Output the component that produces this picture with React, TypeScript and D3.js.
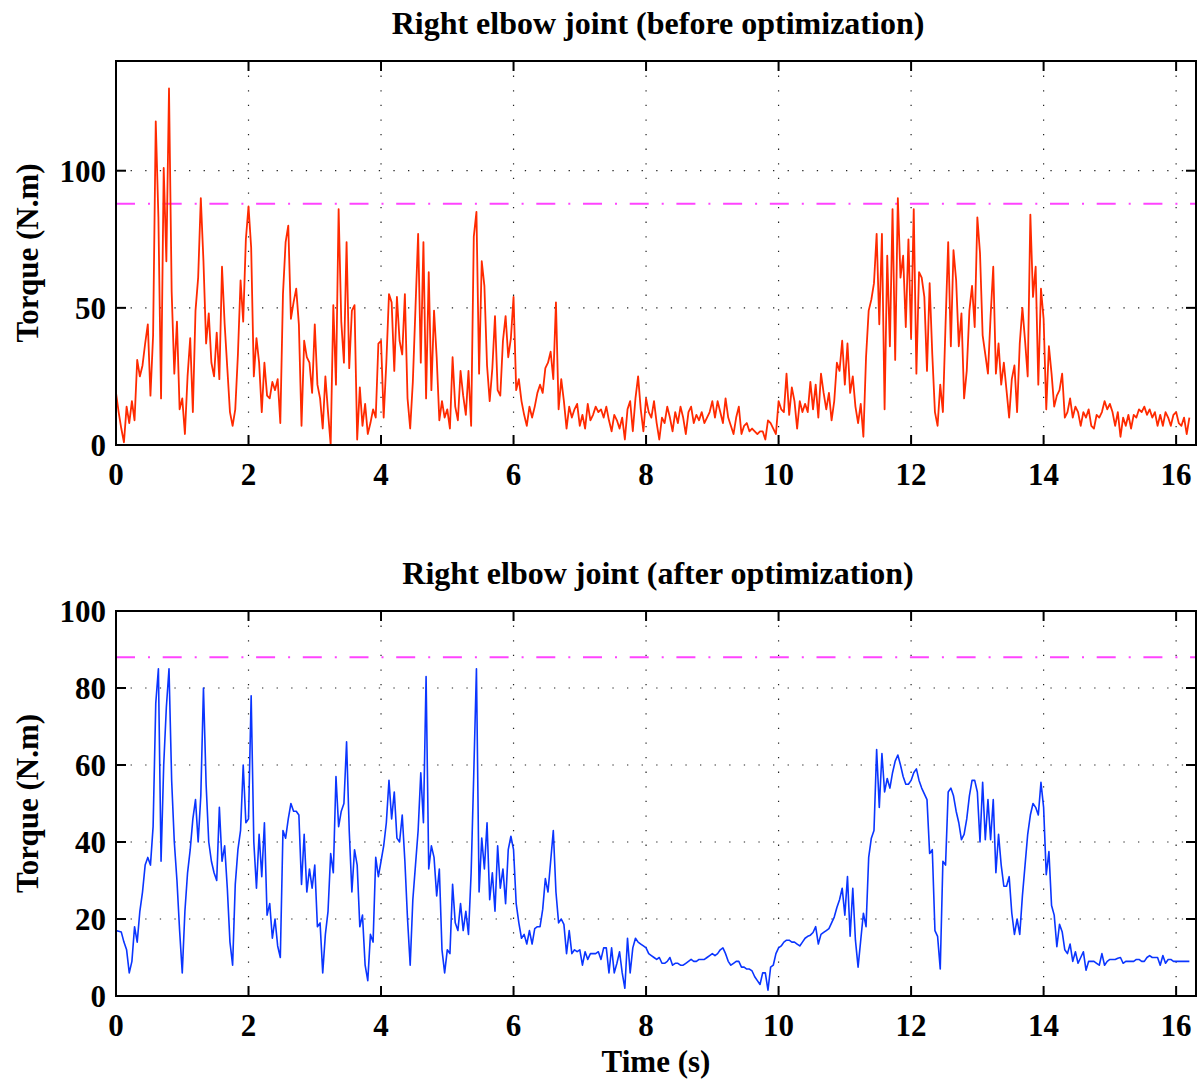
import React from 'react';
import * as d3 from 'd3';

const DT = 0.04;

// Torque before optimization (N.m), one array per 2 s block
const before0to2 = [19,12,6,1,14,8,16,9,31,25, 29,37,44,18,40,118,83,17,101,67, 130,56,26,45,13,17,4,25,39,12, 49,61,90,67,37,48,30,25,41,24, 65,44,28,12,7,13,33,60,45,75];
const before2to4 = [87,72,25,39,30,12,30,18,17,23, 20,24,8,55,74,80,46,52,57,44, 7,38,32,30,19,44,22,17,6,25, 12,0,51,22,86,45,30,74,28,49, 51,2,21,7,15,4,8,13,10,37];
const before4to6 = [38,10,30,55,52,27,54,38,33,55, 17,6,23,50,77,30,74,17,63,20, 49,32,9,16,10,13,6,32,14,9, 27,18,11,27,7,76,85,26,67,58, 29,16,28,47,20,18,38,47,32,39];
const before6to8 = [54,20,24,16,11,7,14,10,14,19, 22,19,28,30,34,24,52,13,24,16, 6,14,10,13,15,7,11,6,15,9, 11,14,12,13,10,14,9,5,11,9, 6,10,2,13,16,5,17,25,13,5];
const before8to10 = [17,12,10,16,8,2,10,8,14,10, 5,12,8,14,10,4,12,14,8,11, 9,12,8,10,12,16,10,16,12,8, 17,10,7,4,10,14,4,7,8,5, 6,5,4,5,5,2,9,8,6,4];
const before10to12 = [16,13,12,26,11,21,16,6,16,12, 15,12,23,13,22,10,26,19,13,19, 9,16,30,27,38,22,37,19,25,14, 8,15,3,32,49,53,59,77,44,77, 13,69,36,86,31,90,61,69,43,75];
const before12to14 = [39,86,26,63,61,54,27,59,33,12, 7,22,12,44,74,36,71,60,36,48, 17,27,49,58,43,83,70,40,33,26, 47,65,26,37,22,30,20,10,24,29, 12,37,50,38,25,84,54,65,22,57];
const before14toEnd = [46,13,36,26,14,18,20,26,10,12, 17,10,14,12,7,12,10,13,7,6, 11,10,12,16,13,15,12,7,12,3, 10,7,11,6,11,10,13,12,14,11, 13,10,12,7,11,7,12,10,7,11, 12,8,7,10,4,10];

// Torque after optimization (N.m)
const after0to2 = [17,16.8,16.6,14,12,6,9,18,14,22, 27,34,36,34,44,76,85,35,60,75, 85,56,40,30,17,6,22,32,38,46, 51,40,52,80,55,40,35,32,30,49, 35,39,28,14,8,29,38,43,60,45];
const after2to4 = [46,78,40,28,42,31,45,21,24,15, 20,13,10,43,41,46,50,48,48,47, 29,42,27,33,28,34,18,19,6,16, 22,37,32,57,44,48,50,66,43,27, 38,34,18,21,8,4,16,14,36,31];
const after4to6 = [35,39,45,56,46,53,41,40,47,35, 20,8,25,34,43,58,45,83,33,39, 36,26,33,12,6,12,11,29,19,17, 24,17,22,16,32,58,85,27,41,33, 45,25,32,22,39,28,33,24,38,41.5];
const after6to8 = [38,24,19,15,16,13.5,17,13.5,17.5,18, 18,22.5,30.5,27,35,43,27,19,20,18.6, 11,17,11,12,11.5,12,8,11.5,9.5,11, 11,11,11.5,9.5,12.5,12.5,6,12.5,6,8.5, 11.5,6,2,15,6,12.5,15,14,13.5,13];
const after8to10 = [12.5,11,10.5,10,9.5,10,8.5,8.5,9,10, 8,8.5,8.5,8,8,8.5,9,9.5,9,9, 9.5,9.5,9.5,10,10.5,11,10.5,11,12,12.5, 11,9,8,8.5,9,9,7.5,7.5,7,7, 6.5,5,4,3,6,6,1.5,7.5,8,11];
const after10to12 = [12.5,13,14,14.5,14.5,14,14,13.5,13,14, 15,15.5,15.8,16.5,18,13.5,16,16.5,17,17.5, 19,20.5,23,25,28,21,31,15.5,28,14.5, 7.5,14.5,21.5,18,36,41,43,64,49,63, 53,56.5,54,58,61,62.6,60,57,55,55];
const after12to14 = [56,58,59,56,54,52.5,51,37,38,17, 15.5,7,35,34,53,54,52,48,45,40.6, 42,46,52,56,56,53,40,55.5,40.6,51, 40.6,51,32,42,34,28.5,28.5,31,21.5,16, 20,16,26,34,42,47,50,49,47,55.5];
const after14toEnd = [49,31.5,37.5,23.5,21,12.8,18.6,16.7,12,11, 13.5,9,11.5,8.5,10,11.5,6.7,9,9,9, 8.5,8,11,8,9,9.5,9.5,9.5,9.8,10, 8.5,9,9,9,9,9.5,9.5,9,9,10, 10.5,10,10,10,8,10.5,8.5,9.5,9.5,9, 9,9,9,9,9,9];

const beforeTorque = [...before0to2, ...before2to4, ...before4to6, ...before6to8, ...before8to10, ...before10to12, ...before12to14, ...before14toEnd];
const afterTorque = [...after0to2, ...after2to4, ...after4to6, ...after6to8, ...after8to10, ...after10to12, ...after12to14, ...after14toEnd];

const torqueLimit = 88;
const xTicks = [0, 2, 4, 6, 8, 10, 12, 14, 16];
const xMax = 16.3;
const yTicksTop = [0, 50, 100];
const yTicksBottom = [0, 20, 40, 60, 80, 100];

const W = 1204;
const H = 1081;
const LEFT = 116;
const RIGHT = 1196;
const FONT = '"Liberation Serif", "Times New Roman", serif';

type PanelProps = {
  top: number;
  bottom: number;
  yMax: number;
  yTicks: number[];
  data: number[];
  color: string;
  width: number;
  title: string;
  id: string;
};

function Panel({ top, bottom, yMax, yTicks, data, color, width, title, id }: PanelProps) {
  const x = d3.scaleLinear().domain([0, xMax]).range([LEFT, RIGHT]);
  const y = d3.scaleLinear().domain([0, yMax]).range([bottom, top]);
  const line = d3
    .line<number>()
    .x((_, i) => x(i * DT))
    .y((d) => y(d));
  const tickLen = 10;
  return (
    <g>
      <text x={658} y={top - 27} textAnchor="middle" fontFamily={FONT} fontWeight="bold" fontSize={32}>
        {title}
      </text>
      <defs>
        <clipPath id={id}>
          <rect x={LEFT} y={top} width={RIGHT - LEFT} height={bottom - top} />
        </clipPath>
      </defs>
      {xTicks.filter((t) => t > 0).map((t) => (
        <line key={'gx' + t} x1={x(t)} x2={x(t)} y1={top} y2={bottom} stroke="#222" strokeWidth={1.2} strokeDasharray="1.3 13.3" />
      ))}
      {yTicks.filter((t) => t > 0 && t < yMax).map((t) => (
        <line key={'gy' + t} x1={LEFT} x2={RIGHT} y1={y(t)} y2={y(t)} stroke="#222" strokeWidth={1.2} strokeDasharray="1.3 13.3" />
      ))}
      <line x1={LEFT} x2={RIGHT} y1={y(torqueLimit)} y2={y(torqueLimit)} stroke="#ff44ff" strokeWidth={2} strokeDasharray="19 13 2 12.7" />
      <path d={line(data) || ''} fill="none" stroke={color} strokeWidth={width} strokeLinejoin="round" clipPath={`url(#${id})`} />
      <rect x={LEFT} y={top} width={RIGHT - LEFT} height={bottom - top} fill="none" stroke="#000" strokeWidth={2} />
      {xTicks.map((t) => (
        <g key={'tx' + t}>
          <line x1={x(t)} x2={x(t)} y1={bottom} y2={bottom - tickLen} stroke="#000" strokeWidth={2} />
          <line x1={x(t)} x2={x(t)} y1={top} y2={top + tickLen} stroke="#000" strokeWidth={2} />
          <text x={x(t)} y={bottom + 40} textAnchor="middle" fontFamily={FONT} fontWeight="bold" fontSize={31}>
            {t}
          </text>
        </g>
      ))}
      {yTicks.map((t) => (
        <g key={'ty' + t}>
          <line x1={LEFT} x2={LEFT + tickLen} y1={y(t)} y2={y(t)} stroke="#000" strokeWidth={2} />
          <line x1={RIGHT} x2={RIGHT - tickLen} y1={y(t)} y2={y(t)} stroke="#000" strokeWidth={2} />
          <text x={106} y={y(t) + 11} textAnchor="end" fontFamily={FONT} fontWeight="bold" fontSize={31}>
            {t}
          </text>
        </g>
      ))}
      <text
        transform={`translate(38, ${(top + bottom) / 2}) rotate(-90)`}
        textAnchor="middle"
        fontFamily={FONT}
        fontWeight="bold"
        fontSize={31}
      >
        Torque (N.m)
      </text>
    </g>
  );
}

export default function App() {
  return (
    <svg width={W} height={H} style={{ position: 'absolute', left: 0, top: 0, background: '#fff' }}>
      <rect x={0} y={0} width={W} height={H} fill="#fff" />
      <Panel top={61} bottom={445} yMax={140} yTicks={yTicksTop} data={beforeTorque} color="#ff2a00" width={1.8} title="Right elbow joint (before optimization)" id="clipTop" />
      <Panel top={611} bottom={996} yMax={100} yTicks={yTicksBottom} data={afterTorque} color="#0a35ff" width={1.6} title="Right elbow joint (after optimization)" id="clipBottom" />
      <text x={656} y={1072} textAnchor="middle" fontFamily={FONT} fontWeight="bold" fontSize={31}>
        Time (s)
      </text>
    </svg>
  );
}
